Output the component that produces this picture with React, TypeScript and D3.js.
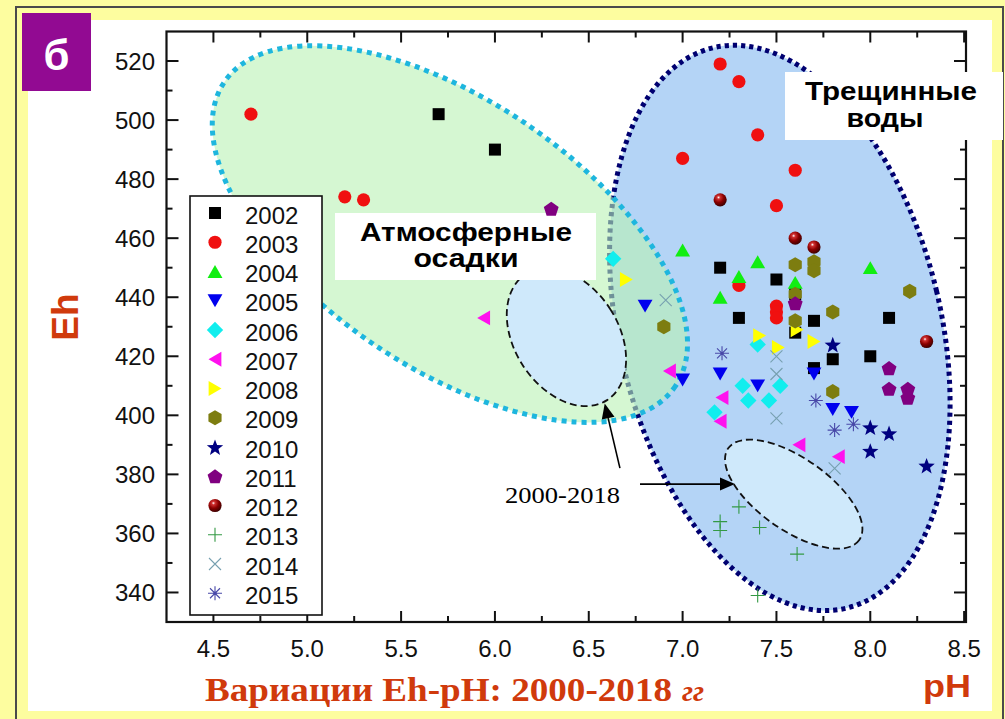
import React from 'react';
import * as d3 from 'd3';

const W = 1005;
const H = 719;

// годы наблюдений (легенда)
const years = ['2002', '2003', '2004', '2005', '2006', '2007', '2008', '2009', '2010', '2011', '2012', '2013', '2014', '2015'];

// точки [pH, Eh] по годам
const s2002: [number, number][] = [[5.7, 502], [6.0, 490], [7.2, 450], [7.5, 446], [7.3, 433], [7.6, 441], [7.6, 428], [7.7, 432], [7.8, 419], [8.0, 420], [8.1, 433], [7.7, 416]];
const s2003: [number, number][] = [[4.7, 502], [5.2, 474], [5.3, 473], [7.2, 519], [7.3, 513], [7.4, 495], [7.0, 487], [7.6, 483], [7.5, 471], [7.3, 444], [7.5, 437], [7.5, 435], [7.5, 433]];
const s2004: [number, number][] = [[7.0, 456], [7.4, 452], [7.3, 447], [7.2, 440], [7.6, 445], [8.0, 450]];
const s2005: [number, number][] = [[6.8, 437], [7.0, 412], [7.2, 414], [7.4, 410], [7.7, 414], [7.8, 402], [7.9, 401]];
const s2006: [number, number][] = [[6.63, 453], [7.32, 410], [7.52, 410], [7.35, 405], [7.46, 405], [7.4, 424], [7.17, 401]];
const s2007: [number, number][] = [[5.94, 433], [6.93, 415], [7.21, 406], [7.2, 398], [7.62, 390], [7.83, 386]];
const s2008: [number, number][] = [[6.7, 446], [7.41, 427], [7.51, 423], [7.61, 429], [7.7, 425]];
const s2009: [number, number][] = [[6.9, 430], [7.6, 451], [7.7, 452], [7.7, 449], [8.21, 442], [7.8, 435], [7.6, 441], [7.6, 432], [7.8, 408]];
const s2010: [number, number][] = [[7.8, 424], [8.0, 396], [8.1, 394], [8.0, 388], [8.3, 383]];
const s2011: [number, number][] = [[6.3, 470], [7.6, 438], [8.1, 416], [8.1, 409], [8.2, 409], [8.2, 406]];
const s2012: [number, number][] = [[7.6, 460], [7.7, 457], [7.2, 473], [8.3, 425]];
const s2013: [number, number][] = [[7.3, 369], [7.2, 364], [7.2, 361], [7.41, 362], [7.61, 353], [7.4, 339]];
const s2014: [number, number][] = [[6.91, 439], [7.5, 420], [7.5, 414], [7.5, 399], [7.81, 382]];
const s2015: [number, number][] = [[7.21, 421], [7.71, 405], [7.81, 395], [7.91, 397]];

const series = [s2002, s2003, s2004, s2005, s2006, s2007, s2008, s2009, s2010, s2011, s2012, s2013, s2014, s2015];

// оси
const xTicks = [4.5, 5.0, 5.5, 6.0, 6.5, 7.0, 7.5, 8.0, 8.5];
const xTickLabels = ['4.5', '5.0', '5.5', '6.0', '6.5', '7.0', '7.5', '8.0', '8.5'];
const yTicks = [340, 360, 380, 400, 420, 440, 460, 480, 500, 520];
const yTickLabels = ['340', '360', '380', '400', '420', '440', '460', '480', '500', '520'];

const markerStyle = [
  { shape: 'square', color: '#000000' },
  { shape: 'circle', color: '#f01010' },
  { shape: 'triUp', color: '#11ee11' },
  { shape: 'triDown', color: '#0000ee' },
  { shape: 'diamond', color: '#11eeee' },
  { shape: 'triLeft', color: '#ff11ee' },
  { shape: 'triRight', color: '#ffff00' },
  { shape: 'hexagon', color: '#7d7d10' },
  { shape: 'star', color: '#000080' },
  { shape: 'pentagon', color: '#800080' },
  { shape: 'sphere', color: '#800000' },
  { shape: 'plus', color: '#339944' },
  { shape: 'times', color: '#77a0b0' },
  { shape: 'asterisk', color: '#4848a8' },
];

const x = d3.scaleLinear().domain([4.25, 8.51]).range([166.5, 966]);
const y = d3.scaleLinear().domain([330, 530]).range([622, 31.5]);

const sans = 'Liberation Sans, Arial, sans-serif';
const serif = 'Liberation Serif, Times New Roman, serif';
const red = '#d03a0c';

function poly(n: number, r: number, rot: number, dx = 0, dy = 0) {
  const pts = d3.range(n).map((i) => {
    const a = ((rot + (i * 360) / n) * Math.PI) / 180;
    return [dx + r * Math.sin(a), dy - r * Math.cos(a)];
  });
  return 'M' + pts.map((p) => p[0].toFixed(2) + ',' + p[1].toFixed(2)).join('L') + 'Z';
}

function starPath(ro: number, ri: number) {
  const pts = d3.range(10).map((i) => {
    const a = (i * 36 * Math.PI) / 180;
    const r = i % 2 === 0 ? ro : ri;
    return [r * Math.sin(a), -r * Math.cos(a) + 1];
  });
  return 'M' + pts.map((p) => p[0].toFixed(2) + ',' + p[1].toFixed(2)).join('L') + 'Z';
}

function Marker({ shape, color, cx, cy }: { shape: string; color: string; cx: number; cy: number }) {
  const t = `translate(${cx},${cy})`;
  switch (shape) {
    case 'square':
      return <rect x={cx - 6} y={cy - 6} width={12} height={12} fill={color} />;
    case 'circle':
      return <circle cx={cx} cy={cy} r={6.6} fill={color} />;
    case 'sphere':
      return <circle cx={cx} cy={cy} r={6.6} fill="url(#sphere)" />;
    case 'triUp':
      return <path transform={t} d={poly(3, 8.6, 0, 0, 2.1)} fill={color} />;
    case 'triDown':
      return <path transform={t} d={poly(3, 8.6, 180, 0, -2.1)} fill={color} />;
    case 'triLeft':
      return <path transform={t} d={poly(3, 8.6, 270, 2.1, 0)} fill={color} />;
    case 'triRight':
      return <path transform={t} d={poly(3, 8.6, 90, -2.1, 0)} fill={color} />;
    case 'diamond':
      return <path transform={t} d={poly(4, 8.2, 0)} fill={color} />;
    case 'hexagon':
      return <path transform={t} d={poly(6, 7.6, 0)} fill={color} />;
    case 'pentagon':
      return <path transform={t} d={poly(5, 7.8, 0, 0, 0.8)} fill={color} />;
    case 'star':
      return <path transform={t} d={starPath(8.6, 3.6)} fill={color} />;
    case 'plus':
      return <path transform={t} d="M-7,0H7M0,-7V7" stroke={color} strokeWidth={1.1} fill="none" />;
    case 'times':
      return <path transform={t} d="M-6,-6L6,6M-6,6L6,-6" stroke={color} strokeWidth={1.1} fill="none" />;
    case 'asterisk':
      return (
        <g transform={t} stroke={color} strokeWidth={1.1} fill="none">
          <path d="M-7,0H7M0,-7V7M-5,-5L5,5M-5,5L5,-5" />
          <circle r={1.5} fill={color} stroke="none" />
        </g>
      );
    default:
      return null;
  }
}

// оболочки групп (центр в единицах pH/Eh, полуоси в пикселях)
const zones = [
  { name: 'fracture', c: [7.518, 429.6], rx: 161, ry: 288, rot: -13.4 },
  { name: 'atmo', c: [5.76, 461.4], rx: 272, ry: 134, rot: 34 },
  { name: 'core1', c: [6.381, 426.5], rx: 52, ry: 75, rot: -32.8 },
  { name: 'core2', c: [7.592, 373.3], rx: 80, ry: 36, rot: 35 },
];

// стрелки к ядрам 2000-2018
const arrows = [
  { from: [6.666, 382.1], to: [6.585, 404.0] },
  { from: [6.773, 376.7], to: [7.279, 376.7] },
];

function Arrow({ x1, y1, x2, y2 }: { x1: number; y1: number; x2: number; y2: number }) {
  const ang = Math.atan2(y2 - y1, x2 - x1);
  const L = 15;
  const hw = 6.5;
  const bx = x2 - L * Math.cos(ang);
  const by = y2 - L * Math.sin(ang);
  const px = -Math.sin(ang) * hw;
  const py = Math.cos(ang) * hw;
  return (
    <g>
      <line x1={x1} y1={y1} x2={bx} y2={by} stroke="#000" strokeWidth={1.6} />
      <path d={`M${x2},${y2}L${bx + px},${by + py}L${bx - px},${by - py}Z`} fill="#000" />
    </g>
  );
}

function ellipseEl(z: typeof zones[number], props: any) {
  const cx = x(z.c[0]);
  const cy = y(z.c[1]);
  return <ellipse cx={cx} cy={cy} rx={z.rx} ry={z.ry} transform={`rotate(${z.rot},${cx},${cy})`} {...props} />;
}

export default function App() {
  const x0 = x.range()[0];
  const x1 = x.range()[1];
  const y0 = y.range()[1];
  const y1 = y.range()[0];
  const xMinor = d3.range(4.75, 8.5, 0.5);
  const yMinor = d3.range(350, 530, 20);
  const legY = (i: number) => 213 + i * 29.25;

  return (
    <div style={{ position: 'absolute', left: 0, top: 0 }}>
      <svg width={W} height={H} style={{ display: 'block' }}>
        <defs>
          <radialGradient id="sphere" cx="38%" cy="32%" r="70%">
            <stop offset="0%" stopColor="#ffffff" />
            <stop offset="18%" stopColor="#d03030" />
            <stop offset="55%" stopColor="#8a0000" />
            <stop offset="100%" stopColor="#3a0000" />
          </radialGradient>
          <clipPath id="plotClip">
            <rect x={x0} y={y0} width={x1 - x0} height={y1 - y0} />
          </clipPath>
        </defs>

        {/* фон слайда */}
        <rect x={0} y={0} width={W} height={H} fill="#fdfd9f" />
        <rect x={16} y={7} width={987} height={730} fill="none" stroke="#4a4a4a" strokeWidth={2} />
        <rect x={28} y={20} width={964} height={691} fill="#ffffff" />

        {/* зоны */}
        {ellipseEl(zones[0], { fill: '#b4d4f6', stroke: '#000070', strokeWidth: 5, strokeDasharray: '4.2 4' })}
        {ellipseEl(zones[1], { fill: '#b9f2b4', fillOpacity: 0.6, stroke: 'none' })}
        {ellipseEl(zones[1], { fill: 'none', stroke: '#1eb6de', strokeWidth: 5, strokeDasharray: '5 5' })}
        {ellipseEl(zones[2], { fill: '#cfe9fb', stroke: '#111', strokeWidth: 1.8, strokeDasharray: '7 4' })}
        {ellipseEl(zones[3], { fill: '#cfe9fb', stroke: '#111', strokeWidth: 1.8, strokeDasharray: '7 4' })}

        {/* рамка и деления */}
        <rect x={x0} y={y0} width={x1 - x0} height={y1 - y0} fill="none" stroke="#111" strokeWidth={2.2} />
        <g stroke="#111" strokeWidth={2}>
          {xTicks.map((v) => (
            <g key={'xt' + v}>
              <line x1={x(v)} x2={x(v)} y1={y1} y2={y1 - 11} />
              <line x1={x(v)} x2={x(v)} y1={y0} y2={y0 + 11} />
            </g>
          ))}
          {xMinor.map((v) => (
            <g key={'xm' + v}>
              <line x1={x(v)} x2={x(v)} y1={y1} y2={y1 - 6} />
              <line x1={x(v)} x2={x(v)} y1={y0} y2={y0 + 6} />
            </g>
          ))}
          {yTicks.map((v) => (
            <g key={'yt' + v}>
              <line x1={x0} x2={x0 + 12} y1={y(v)} y2={y(v)} />
              <line x1={x1} x2={x1 - 12} y1={y(v)} y2={y(v)} />
            </g>
          ))}
          {yMinor.map((v) => (
            <g key={'ym' + v}>
              <line x1={x0} x2={x0 + 6} y1={y(v)} y2={y(v)} />
              <line x1={x1} x2={x1 - 6} y1={y(v)} y2={y(v)} />
            </g>
          ))}
        </g>
        <g fontFamily={sans} fontSize={24} fill="#111">
          {xTicks.map((v, i) => (
            <text key={'xl' + v} x={x(v)} y={y1 + 35} textAnchor="middle">
              {xTickLabels[i]}
            </text>
          ))}
          {yTicks.map((v, i) => (
            <text key={'yl' + v} x={155} y={y(v) + 8.5} textAnchor="end">
              {yTickLabels[i]}
            </text>
          ))}
        </g>

        {/* подписи зон */}
        <rect x={335} y={213} width={261} height={67} fill="#ffffff" />
        <g fontFamily={sans} fontSize={25} fontWeight="bold" fill="#000" textAnchor="middle">
          <text x={466} y={240.5} textLength={212} lengthAdjust="spacingAndGlyphs">Атмосферные</text>
          <text x={466} y={267} textLength={105} lengthAdjust="spacingAndGlyphs">осадки</text>
        </g>
        <rect x={785} y={72} width={218} height={68} fill="#ffffff" />
        <g fontFamily={sans} fontSize={25} fontWeight="bold" fill="#000" textAnchor="middle">
          <text x={891} y={100} textLength={172} lengthAdjust="spacingAndGlyphs">Трещинные</text>
          <text x={885} y={126.5} textLength={77} lengthAdjust="spacingAndGlyphs">воды</text>
        </g>

        {/* точки */}
        {series.map((s, si) =>
          s.map((d, j) => (
            <Marker key={si + '-' + j} shape={markerStyle[si].shape} color={markerStyle[si].color} cx={x(d[0])} cy={y(d[1])} />
          ))
        )}

        {/* стрелки */}
        {arrows.map((a, i) => (
          <Arrow key={'ar' + i} x1={x(a.from[0])} y1={y(a.from[1])} x2={x(a.to[0])} y2={y(a.to[1])} />
        ))}
        <text x={505} y={503} fontFamily={serif} fontSize={24} textLength={115} lengthAdjust="spacingAndGlyphs" fill="#000">
          2000-2018
        </text>

        {/* легенда */}
        <rect x={190} y={196} width={132} height={419} fill="#ffffff" stroke="#111" strokeWidth={1.6} />
        {years.map((yr, i) => (
          <g key={'lg' + yr}>
            <Marker shape={markerStyle[i].shape} color={markerStyle[i].color} cx={215} cy={legY(i)} />
            <text x={245} y={legY(i) + 10.5} fontFamily={sans} fontSize={24} fill="#111">
              {yr}
            </text>
          </g>
        ))}

        {/* метка панели */}
        <rect x={22} y={13} width={69} height={78} fill="#920a92" />
        <text x={56.5} y={70} textAnchor="middle" fontFamily={sans} fontWeight="bold" fontSize={42} fill="#ffffff">
          б
        </text>

        {/* подписи осей */}
        <text transform="translate(78,317) rotate(-90)" textAnchor="middle" fontFamily={sans} fontWeight="bold" fontSize={37} fill={red}>
          Eh
        </text>
        <text x={923} y={697} fontFamily={sans} fontWeight="bold" fontSize={31} fill={red} textLength={48} lengthAdjust="spacingAndGlyphs">
          pH
        </text>
        <text x={205} y={700.5} fontFamily={serif} fontWeight="bold" fontSize={34} fill={red} textLength={467} lengthAdjust="spacingAndGlyphs">
          Вариации Eh-pH: 2000-2018
        </text>
        <text x={682} y={700.5} fontFamily={serif} fontWeight="bold" fontStyle="italic" fontSize={30} fill={red}>
          гг
        </text>
      </svg>
    </div>
  );
}
